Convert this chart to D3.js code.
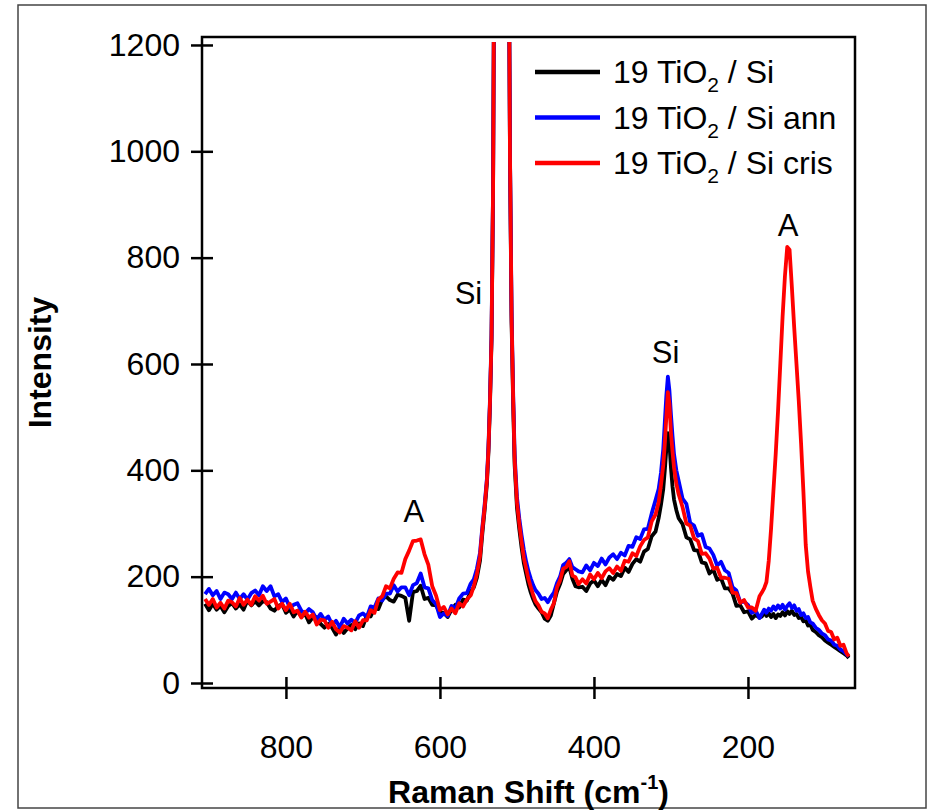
<!DOCTYPE html>
<html>
<head>
<meta charset="utf-8">
<script src="https://cdn.jsdelivr.net/npm/d3@7"></script>
<style>
  body { margin: 0; background: #fff; }
  text { font-family: "Liberation Sans", Arial, sans-serif; fill: #000; }
</style>
</head>
<body>
<div id="chart"></div>
<script>

// Raman shift grid (cm-1), shared by the three spectra
var wavenumbers = [
  905,900,895,890,885,880,875,870,865,860, 855,850,845,840,835,830,825,820,815,810,
  805,800,795,790,785,780,775,770,765,760, 755,750,745,740,735,730,725,720,715,710,
  705,700,695,690,685,680,675,670,665,660, 655,650,645,640,635,630,625,620,615,610,
  605,600,595,590,585,580,575,570,565,560,
  556,552,548,545,542,539,537,535,533,531, 530,528,524,520,516,512,510,509,507,505,
  503,500,497,494,491,488,485,482,479,476,
  472,468,464,460,456,452,448,444,440,436,432,428,424,420,
  415,410,405,400,395,390,385,380,375,370,365,360,355,350,345,340,335,330,325,320,
  316,313,310,308,306,304,302,300,298,296,293,290,
  285,280,275,270,265,260,255,250,245,240,235,230,225,220,215,210,205,200,195,190,185,
  182,179,176,173,170,167,164,161,158,155,152,149,146,143,140,137,134,131,128,125,122,119,116,
  112,108,104,100,96,92,88,84,80,76,72,69
];

// 19 TiO2 / Si
var blackIntensity = [
  149,137,149,138,145,133,145,150,140,148, 138,155,146,154,146,154,152,140,136,145,
  148,132,138,125,136,125,130,114,124,124, 111,104,111,104,91,105,94,103,109,101,
  112,107,127,125,141,139,157,163,156,153, 166,164,160,117,171,173,183,158,160,147,
  146,133,132,124,138,147,142,157,155,172,
  180,198,230,280,325,375,435,525,645,930, 1240,2200,4000,5000,4000,2200,1240,985,680,530,
  410,330,290,255,225,205,185,170,158,148,
  140,133,121,117,127,150,172,186,205,212,218,196,182,180,
  181,173,187,193,182,194,184,200,194,205,201,217,209,224,233,228,247,252,276,285,
  310,335,365,400,440,470,450,405,370,345,325,310,
  299,274,270,250,249,227,225,206,213,194,197,178,178,168,145,146,133,135,121,128,123,
  125,132,126,131,124,130,122,129,126,133,127,135,130,136,128,130,122,124,116,118,108,110,100,
  96,90,86,80,76,72,68,64,60,56,52,47
];

// 19 TiO2 / Si ann
var blueIntensity = [
  167,177,165,173,158,170,167,158,170,158, 167,157,169,174,165,182,173,182,163,167,
  152,159,142,147,150,136,131,139,133,119, 130,119,125,110,117,105,121,112,119,113,
  127,131,124,144,142,159,155,168,168,184, 172,180,180,165,184,188,206,180,178,156,
  148,124,131,126,145,140,159,168,169,187,
  195,215,245,292,335,385,445,535,655,935, 1240,2200,4000,5000,4000,2200,1240,990,700,550,
  430,350,310,278,250,228,210,196,184,175,
  168,158,160,152,162,170,188,200,222,226,233,218,214,210,
  208,221,212,226,220,234,223,236,242,233,245,240,258,256,274,271,289,290,319,344,
  365,395,440,490,540,576,550,505,465,430,400,380,
  347,337,301,296,277,280,256,253,241,221,228,212,207,180,174,152,153,147,132,136,122,
  130,138,132,140,136,144,138,146,140,147,138,145,150,141,146,136,139,128,131,122,124,114,112,
  104,100,93,90,82,80,72,70,63,60,54,50
];

// 19 TiO2 / Si cris
var redIntensity = [
  158,147,158,142,151,140,155,152,144,160, 147,157,147,163,155,164,149,153,158,140,
  149,137,149,133,136,123,134,123,129,110, 119,118,104,115,101,95,107,104,99,116,
  104,118,118,137,132,157,163,182,178,196, 208,207,233,249,267,268,270,242,222,182,
  164,137,143,129,140,131,150,144,157,165,
  182,205,238,288,330,381,440,530,650,930, 1240,2200,4000,5000,4000,2200,1240,985,690,540,
  420,340,300,265,235,215,195,180,166,154,
  146,134,131,122,138,150,180,193,215,218,229,202,199,186,
  195,187,204,195,207,197,210,216,207,219,211,230,228,244,239,257,269,274,304,317,
  340,372,410,450,500,547,525,470,435,405,375,355,
  331,300,296,272,267,243,244,234,215,217,198,198,196,170,169,151,156,142,142,136,163,
  170,178,190,230,290,360,430,510,600,690,765,820,815,745,670,600,530,450,360,260,210,181,155,
  140,128,118,112,98,96,82,85,70,72,56,50
];

var seriesNames = ["19 TiO2 / Si", "19 TiO2 / Si ann", "19 TiO2 / Si cris"];
var seriesSuffix = ["", " ann", " cris"];
var seriesColors = ["#000000", "#0000ff", "#ff0000"];

var xTicks = [800, 600, 400, 200];
var yTicks = [0, 200, 400, 600, 800, 1000, 1200];

// peak labels: [raman shift, intensity, text]
var peakLabels = [
  [634, 302, "A"],
  [563, 712, "Si"],
  [307, 601, "Si"],
  [148, 840, "A"]
];

// frame
var W = 932, H = 811;
var plot = {left: 202, right: 855, top: 37, bottom: 688};

var svg = d3.select("#chart").append("svg")
    .attr("width", W)
    .attr("height", H);

svg.append("rect").attr("width", W).attr("height", H).attr("fill", "#fff");

// thin border around the whole figure
svg.append("rect")
    .attr("x", 18).attr("y", 5)
    .attr("width", 908).attr("height", 803)
    .attr("fill", "none")
    .attr("stroke", "#444")
    .attr("stroke-width", 1.5);

var xScale = d3.scaleLinear()
    .domain([909, 61])
    .range([plot.left, plot.right]);

var yScale = d3.scaleLinear()
    .domain([-9.4, 1215])
    .range([plot.bottom, plot.top]);

svg.append("clipPath").attr("id", "clip")
  .append("rect")
    .attr("x", plot.left)
    .attr("y", 42)
    .attr("width", plot.right - plot.left)
    .attr("height", plot.bottom - 42);

var line = d3.line()
    .x(function(d) { return xScale(d[0]); })
    .y(function(d) { return yScale(d[1]); });

var allIntensities = [blackIntensity, blueIntensity, redIntensity];

var curves = svg.append("g").attr("clip-path", "url(#clip)");
allIntensities.forEach(function(vals, k) {
    var pts = wavenumbers.map(function(w, i) { return [w, vals[i]]; })
        .filter(function(d) { return d[1] !== undefined; });
    curves.append("path")
        .datum(pts)
        .attr("fill", "none")
        .attr("stroke", seriesColors[k])
        .attr("stroke-width", 3.8)
        .attr("stroke-linejoin", "round")
        .attr("d", line);
});

// axes - ticks cross the axis line
var yAxis = d3.axisLeft(yScale)
    .tickValues(yTicks)
    .tickFormat(d3.format("d"))
    .tickSize(11)
    .tickSizeOuter(0)
    .tickPadding(11);

var gy = svg.append("g")
    .attr("transform", "translate(" + plot.left + ",0)")
    .call(yAxis);
gy.select(".domain").remove();
gy.selectAll(".tick line").attr("x1", 11).attr("stroke", "#000").attr("stroke-width", 2.5);
gy.selectAll(".tick text").style("font-size", "32px").style("font-family", "'Liberation Sans', Arial, sans-serif");

var xAxis = d3.axisBottom(xScale)
    .tickValues(xTicks)
    .tickFormat(d3.format("d"))
    .tickSize(11)
    .tickSizeOuter(0)
    .tickPadding(36);

var gx = svg.append("g")
    .attr("transform", "translate(0," + plot.bottom + ")")
    .call(xAxis);
gx.select(".domain").remove();
gx.selectAll(".tick line").attr("y1", -11).attr("stroke", "#000").attr("stroke-width", 2.5);
gx.selectAll(".tick text").style("font-size", "32px").style("font-family", "'Liberation Sans', Arial, sans-serif");

// box
svg.append("rect")
    .attr("x", plot.left).attr("y", plot.top)
    .attr("width", plot.right - plot.left)
    .attr("height", plot.bottom - plot.top)
    .attr("fill", "none")
    .attr("stroke", "#000")
    .attr("stroke-width", 2.5);

// axis titles
var xt = svg.append("text")
    .attr("x", (plot.left + plot.right) / 2)
    .attr("y", 803)
    .attr("text-anchor", "middle")
    .style("font-size", "32px")
    .style("font-weight", "bold");
xt.append("tspan").text("Raman Shift (cm");
xt.append("tspan").attr("dy", -14).style("font-size", "20px").text("-1");
xt.append("tspan").attr("dy", 14).text(")");

svg.append("text")
    .attr("transform", "translate(51," + ((plot.top + plot.bottom) / 2) + ")rotate(-90)")
    .attr("text-anchor", "middle")
    .style("font-size", "32px")
    .style("font-weight", "bold")
    .text("Intensity");

// peak labels
svg.selectAll(".peak")
    .data(peakLabels)
    .enter()
    .append("text")
    .attr("class", "peak")
    .attr("x", function(d) { return xScale(d[0]); })
    .attr("y", function(d) { return yScale(d[1]); })
    .attr("text-anchor", "middle")
    .style("font-size", "31px")
    .text(function(d) { return d[2]; });

// legend
var legend = svg.append("g").attr("transform", "translate(535,72)");
seriesNames.forEach(function(name, k) {
    var row = legend.append("g").attr("transform", "translate(0," + (k * 45.5) + ")");
    row.append("line")
        .attr("x1", 0).attr("x2", 65)
        .attr("y1", 0).attr("y2", 0)
        .attr("stroke", seriesColors[k])
        .attr("stroke-width", 4.5);
    var t = row.append("text")
        .attr("x", 78)
        .attr("y", 11)
        .style("font-size", "32px");
    t.append("tspan").text("19 TiO");
    t.append("tspan").attr("dy", 9).style("font-size", "21px").text("2");
    t.append("tspan").attr("dy", -9).text(" / Si" + seriesSuffix[k]);
});

</script>
</body>
</html>
